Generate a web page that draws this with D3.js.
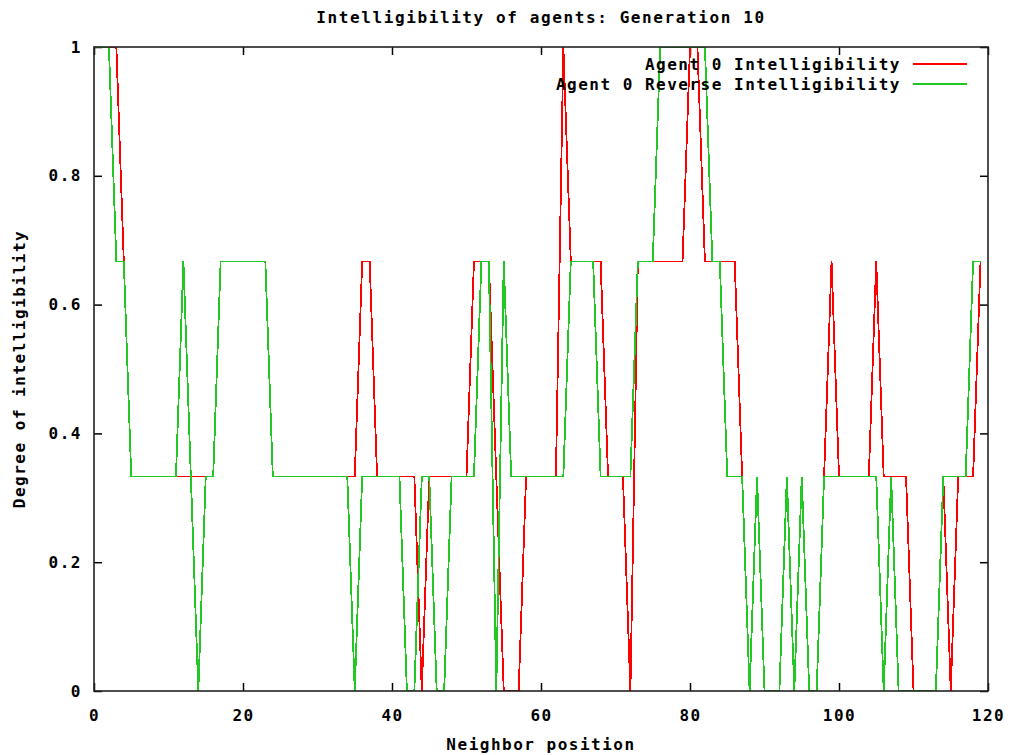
<!DOCTYPE html>
<html>
<head>
<meta charset="utf-8">
<script src="https://cdn.jsdelivr.net/npm/d3@7"></script>
<style>
  html, body { margin: 0; padding: 0; background: #ffffff; }
  svg { display: block; }
  text { font-family: "DejaVu Sans Mono", "Liberation Mono", monospace; }
</style>
</head>
<body>
<svg id="chart" width="1011" height="755"></svg>
<script>
// ---------------- data ----------------
const chartTitle = "Intelligibility of agents: Generation 10";
const xAxisTitle = "Neighbor position";
const yAxisTitle = "Degree of intelligibility";
const xTicks = [0, 20, 40, 60, 80, 100, 120];
const yTicks = [0, 0.2, 0.4, 0.6, 0.8, 1];
const yTickLabels = ["0", "0.2", "0.4", "0.6", "0.8", "1"];
const seriesNames = ["Agent 0 Intelligibility", "Agent 0 Reverse Intelligibility"];
const seriesColors = ["#ff0000", "#22c822"];

// neighbor positions 0..119
const positions = [
  0,1,2,3,4,5,6,7,8,9,10,11,12,13,14,15,16,17,18,19,
  20,21,22,23,24,25,26,27,28,29,30,31,32,33,34,35,36,37,38,39,
  40,41,42,43,44,45,46,47,48,49,50,51,52,53,54,55,56,57,58,59,
  60,61,62,63,64,65,66,67,68,69,70,71,72,73,74,75,76,77,78,79,
  80,81,82,83,84,85,86,87,88,89,90,91,92,93,94,95,96,97,98,99,
  100,101,102,103,104,105,106,107,108,109,110,111,112,113,114,115,116,117,118,119
];

// Agent 0 Intelligibility (red)
const intelligibility = [
  1,1,1,1,0.667,0.333,0.333,0.333,0.333,0.333,0.333,0.333,0.333,0.333,0.333,0.333,0.333,0.667,0.667,0.667,
  0.667,0.667,0.667,0.667,0.333,0.333,0.333,0.333,0.333,0.333,0.333,0.333,0.333,0.333,0.333,0.333,0.667,0.667,0.333,0.333,
  0.333,0.333,0.333,0.333,0,0.333,0.333,0.333,0.333,0.333,0.333,0.667,0.667,0.667,0.333,0,0,0,0.333,0.333,
  0.333,0.333,0.333,1,0.667,0.667,0.667,0.667,0.667,0.333,0.333,0.333,0,0.667,0.667,0.667,0.667,0.667,0.667,0.667,
  1,1,0.667,0.667,0.667,0.667,0.667,0.333,0,0.333,0,0,0,0.333,0,0.333,0,0,0.333,0.667,
  0.333,0.333,0.333,0.333,0.333,0.667,0.333,0.333,0.333,0.333,0,0,0,0,0.333,0,0.333,0.333,0.333,0.667
];

// Agent 0 Reverse Intelligibility (green)
const reverseIntelligibility = [
  1,1,1,0.667,0.667,0.333,0.333,0.333,0.333,0.333,0.333,0.333,0.667,0.333,0,0.333,0.333,0.667,0.667,0.667,
  0.667,0.667,0.667,0.667,0.333,0.333,0.333,0.333,0.333,0.333,0.333,0.333,0.333,0.333,0.333,0,0.333,0.333,0.333,0.333,
  0.333,0.333,0,0,0.333,0.333,0,0,0.333,0.333,0.333,0.333,0.667,0.667,0,0.667,0.333,0.333,0.333,0.333,
  0.333,0.333,0.333,0.333,0.667,0.667,0.667,0.667,0.333,0.333,0.333,0.333,0.333,0.667,0.667,0.667,1,1,1,1,
  1,1,1,0.667,0.667,0.333,0.333,0.333,0,0.333,0,0,0,0.333,0,0.333,0,0,0.333,0.333,
  0.333,0.333,0.333,0.333,0.333,0.333,0,0.333,0,0,0,0,0,0,0.333,0.333,0.333,0.333,0.667,0.667
];

// ---------------- drawing ----------------
const svg = d3.select("#chart");
const W = 1011, H = 755;
const plot = { left: 94, right: 988, top: 47, bottom: 691 };

const x = d3.scaleLinear().domain([0, 120]).range([plot.left, plot.right]);
const y = d3.scaleLinear().domain([0, 1]).range([plot.bottom, plot.top]);

const labelFont = { size: 16, spacing: 1.5 };

svg.append("rect").attr("width", W).attr("height", H).attr("fill", "#ffffff");

svg.append("defs").append("clipPath").attr("id", "plotClip")
  .append("rect")
  .attr("x", plot.left).attr("y", plot.top)
  .attr("width", plot.right - plot.left).attr("height", plot.bottom - plot.top);

// axes with inward ticks, mirrored on all sides
const tickLen = 8;
const axisBottom = d3.axisBottom(x).tickValues(xTicks).tickSize(-tickLen).tickPadding(19).tickFormat(d3.format("d"));
const axisTop = d3.axisTop(x).tickValues(xTicks).tickSize(-tickLen).tickFormat("");
const axisLeft = d3.axisLeft(y).tickValues(yTicks).tickSize(-tickLen).tickPadding(12)
  .tickFormat((d, i) => yTickLabels[i]);
const axisRight = d3.axisRight(y).tickValues(yTicks).tickSize(-tickLen).tickFormat("");

function styleAxis(g) {
  g.select(".domain").remove();
  g.selectAll(".tick line").attr("stroke", "#000").attr("stroke-width", 1.5);
  g.selectAll(".tick text")
    .attr("fill", "#000")
    .style("font-family", "'DejaVu Sans Mono', monospace")
    .style("font-weight", "bold")
    .style("font-size", labelFont.size + "px")
    .style("letter-spacing", labelFont.spacing + "px");
}

svg.append("g").attr("transform", `translate(0,${plot.bottom})`).call(axisBottom).call(styleAxis)
  .selectAll(".tick text").attr("dy", "0.71em");
svg.append("g").attr("transform", `translate(0,${plot.top})`).call(axisTop).call(styleAxis);
svg.append("g").attr("transform", `translate(${plot.left},0)`).call(axisLeft).call(styleAxis);
svg.append("g").attr("transform", `translate(${plot.right},0)`).call(axisRight).call(styleAxis);

// series lines (aliased like the original bitmap renderer)
const lineGen = d3.line()
  .x(d => x(d[0]))
  .y(d => y(d[1]));

const seriesData = [intelligibility, reverseIntelligibility];
const gLines = svg.append("g").attr("clip-path", "url(#plotClip)");
seriesData.forEach((vals, i) => {
  const pts = positions.map((p, j) => [p, vals[j]]);
  gLines.append("path")
    .datum(pts)
    .attr("d", lineGen)
    .attr("fill", "none")
    .attr("stroke", seriesColors[i])
    .attr("stroke-width", 1.8)
    .attr("shape-rendering", "crispEdges")
    .attr("stroke-linejoin", "miter");
});

// border box
svg.append("rect")
  .attr("x", plot.left).attr("y", plot.top)
  .attr("width", plot.right - plot.left).attr("height", plot.bottom - plot.top)
  .attr("fill", "none").attr("stroke", "#222").attr("stroke-width", 1.6);

// legend (top right, inside)
const legendTextRight = 901;
const legendLineX0 = 913, legendLineX1 = 967;
const legendRows = [64, 84];
seriesNames.forEach((name, i) => {
  svg.append("text")
    .attr("x", legendTextRight)
    .attr("y", legendRows[i])
    .attr("dy", "0.35em")
    .attr("text-anchor", "end")
    .style("font-weight", "bold")
    .style("font-size", labelFont.size + "px")
    .style("letter-spacing", labelFont.spacing + "px")
    .attr("fill", "#000")
    .text(name);
  svg.append("line")
    .attr("x1", legendLineX0).attr("x2", legendLineX1)
    .attr("y1", legendRows[i]).attr("y2", legendRows[i])
    .attr("stroke", seriesColors[i]).attr("stroke-width", 1.6)
    .attr("shape-rendering", "crispEdges");
});

// titles
svg.append("text")
  .attr("x", (plot.left + plot.right) / 2)
  .attr("y", 17)
  .attr("dy", "0.35em")
  .attr("text-anchor", "middle")
  .style("font-size", "16px")
  .style("font-weight", "bold")
  .style("letter-spacing", "1.6px")
  .attr("fill", "#000")
  .text(chartTitle);

svg.append("text")
  .attr("x", (plot.left + plot.right) / 2)
  .attr("y", 744)
  .attr("dy", "0.35em")
  .attr("text-anchor", "middle")
  .style("font-size", labelFont.size + "px")
  .style("font-weight", "bold")
  .style("letter-spacing", labelFont.spacing + "px")
  .attr("fill", "#000")
  .text(xAxisTitle);

svg.append("text")
  .attr("transform", `translate(19,${(plot.top + plot.bottom) / 2}) rotate(-90)`)
  .attr("dy", "0.35em")
  .attr("text-anchor", "middle")
  .style("font-size", labelFont.size + "px")
  .style("font-weight", "bold")
  .style("letter-spacing", labelFont.spacing + "px")
  .attr("fill", "#000")
  .text(yAxisTitle);
</script>
</body>
</html>
